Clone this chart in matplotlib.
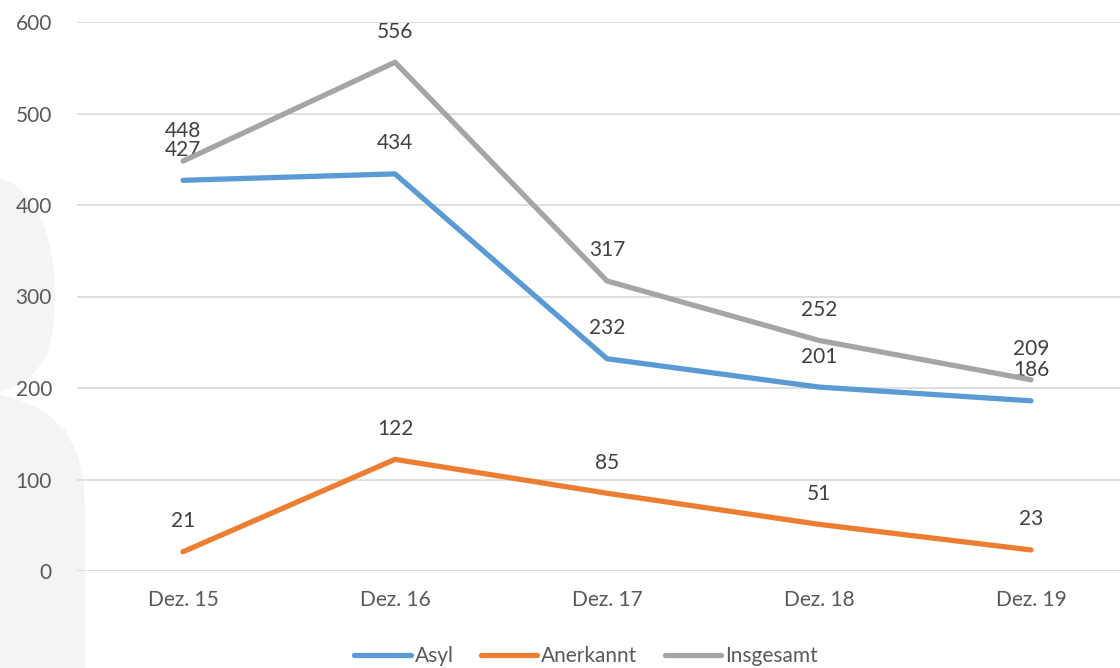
import matplotlib.pyplot as plt
from matplotlib.patches import Polygon

plt.rcParams['font.family'] = ['Lato', 'DejaVu Sans']

categories = ['Dez. 15', 'Dez. 16', 'Dez. 17', 'Dez. 18', 'Dez. 19']
asyl = [427, 434, 232, 201, 186]
anerkannt = [21, 122, 85, 51, 23]
insgesamt = [448, 556, 317, 252, 209]

series = [('Asyl', asyl, '#5B9BD5'),
          ('Anerkannt', anerkannt, '#ED7D31'),
          ('Insgesamt', insgesamt, '#A5A5A5')]

fig = plt.figure(figsize=(11.2, 6.68), dpi=100)
W, H = 1120, 668

# light decorative shape in the background (left edge), pixel outline
outline = [(0, 178), (15, 185), (30, 200), (42, 220), (50, 245), (54, 270),
           (55, 300), (53, 330), (47, 355), (35, 372), (18, 385), (0, 392),
           (0, 395), (20, 400), (45, 412), (65, 430), (78, 455), (84, 485),
           (85, 520), (85, 668), (0, 668)]
fig.patches.append(Polygon([(px / W, 1 - py / H) for px, py in outline],
                           closed=True, transform=fig.transFigure,
                           facecolor='#f3f4f6', edgecolor='none', zorder=0))

ax = fig.add_axes([77 / W, 1 - 571 / H, 1 - 77 / W, 549 / H])
ax.patch.set_alpha(0)
ax.set_zorder(2)

x = list(range(len(categories)))
for name, vals, color in series:
    ax.plot(x, vals, color=color, lw=3.8, solid_capstyle='round',
            solid_joinstyle='round', label=name, zorder=3)
    for xi, v in zip(x, vals):
        ax.annotate(str(v), (xi, v), xytext=(0, 22), textcoords='offset points',
                    ha='center', va='center', fontsize=15, color='#404040')

ax.set_xlim(-0.5, 4.42)
ax.set_ylim(0, 600)
ax.set_yticks(range(0, 601, 100))
ax.set_xticks(x)
ax.set_xticklabels(categories)
ax.grid(axis='y', color='#d9d9d9', lw=1.2)
ax.set_axisbelow(True)
for s in ax.spines.values():
    s.set_visible(False)
ax.tick_params(length=0, labelsize=15, colors='#595959')
ax.tick_params(axis='y', pad=18)
ax.tick_params(axis='x', pad=14)

leg = fig.legend(loc='center', bbox_to_anchor=(586 / W, 1 - 656 / H), ncol=3,
                 frameon=False, fontsize=15, handlelength=2.7, handletextpad=0.2,
                 columnspacing=1.3)
for t in leg.get_texts():
    t.set_color('#595959')

fig.savefig('out.png', dpi=100)
